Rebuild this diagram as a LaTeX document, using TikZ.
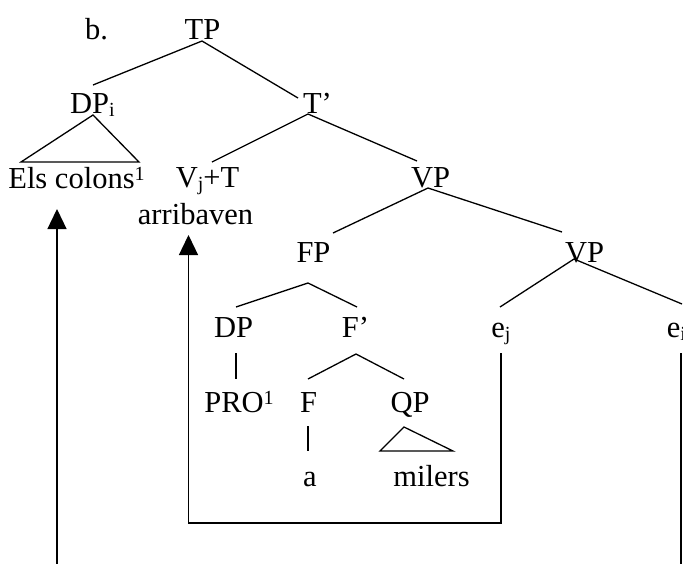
\documentclass[tikz,border=0pt]{standalone}
\usepackage{fontspec}
\setmainfont{Liberation Serif}
\usetikzlibrary{arrows.meta}
\newcommand{\mysub}[1]{\raisebox{-3.5pt}{\fontsize{20}{20}\selectfont #1}}
\newcommand{\mysup}[1]{\raisebox{8pt}{\fontsize{20}{20}\selectfont #1}}
\tikzset{
  lab/.style={anchor=base, inner sep=0pt, font=\fontsize{30.5}{36}\selectfont},
  edge/.style={line width=1.3pt, line cap=butt},
  mover/.style={line width=1.3pt, -{Triangle[width=19pt,length=20pt]}}
}
\begin{document}
\begin{tikzpicture}[x=1pt,y=-1pt]
\useasboundingbox (0,0) rectangle (683,563);
% labels
\node[lab] (b)   at (96.5,39) {b.};
\node[lab] (TP)  at (202.5,39) {TP};
\node[lab] (DPi) at (92.5,113) {DP\mysub{i}};
\node[lab] (Tb)  at (317.5,113) {T’};
\node[lab] (Els) at (76.5,188) {Els colons\mysup{1}};
\node[lab] (VT)  at (207.5,187) {V\mysub{j}+T};
\node[lab] (arr) at (195.5,224) {arribaven};
\node[lab] (VP1) at (430.5,187) {VP};
\node[lab] (FP)  at (313.5,262) {FP};
\node[lab] (VP2) at (584.5,262) {VP};
\node[lab] (DP)  at (233.5,337) {DP};
\node[lab] (Fb)  at (355.5,337) {F’};
\node[lab] (ej)  at (501,337) {e\mysub{j}};
\node[lab] (ei)  at (676.5,337) {e\mysub{i}};
\node[lab] (PRO) at (239,412) {PRO\mysup{1}};
\node[lab] (F)   at (308.5,412) {F};
\node[lab] (QP)  at (410,412) {QP};
\node[lab] (a)   at (310,486) {a};
\node[lab] (mil) at (431.5,486) {milers};
% branch points
\coordinate (TPb) at (202,41);   \coordinate (DPit) at (93,85);  \coordinate (Tbt) at (298,98);
\coordinate (DPib) at (93,115);  \coordinate (triL) at (21,162); \coordinate (triR) at (139,162);
\coordinate (Tbb) at (308,114);  \coordinate (VTt) at (212,162); \coordinate (VP1t) at (417,161);
\coordinate (VP1b) at (428,188); \coordinate (FPt) at (333,233); \coordinate (VP2t) at (562,232);
\coordinate (FPb) at (308,283);  \coordinate (DPt) at (236,307); \coordinate (Fbt) at (357,307);
\coordinate (VP2b) at (574,259); \coordinate (ejt) at (500,307); \coordinate (eit) at (682,304);
\coordinate (DPb) at (236,353);  \coordinate (PROt) at (236,379);
\coordinate (Fbb) at (356,354);  \coordinate (Ft) at (308,379);  \coordinate (QPt) at (404,379);
\coordinate (Fb2) at (308,426);  \coordinate (at) at (308,451);
\coordinate (QPb) at (404,427);  \coordinate (qL) at (380,451);  \coordinate (qR) at (453,451);
\coordinate (ejb) at (501,353);  \coordinate (boxR) at (501,523); \coordinate (boxL) at (188.5,523);
\coordinate (arrTip) at (188.5,235);
\coordinate (eib) at (681,353);  \coordinate (eiEnd) at (681,566);
\coordinate (lStart) at (57,566); \coordinate (ElsTip) at (57,209);
% tree edges
\draw[edge] (DPit) -- (TPb) -- (Tbt);
\draw[edge] (DPib) -- (triL) -- (triR) -- cycle;
\draw[edge] (VTt) -- (Tbb) -- (VP1t);
\draw[edge] (FPt) -- (VP1b) -- (VP2t);
\draw[edge] (DPt) -- (FPb) -- (Fbt);
\draw[edge] (ejt) -- (VP2b) -- (eit);
\draw[edge] (DPb) -- (PROt);
\draw[edge] (Ft) -- (Fbb) -- (QPt);
\draw[edge] (Fb2) -- (at);
\draw[edge] (QPb) -- (qL) -- (qR) -- cycle;
% movement arrows
\draw[mover] (ejb) -- (boxR) -- (boxL) -- (arrTip);
\draw[edge] (eib) -- (eiEnd);
\draw[mover] (lStart) -- (ElsTip);
\end{tikzpicture}
\end{document}
